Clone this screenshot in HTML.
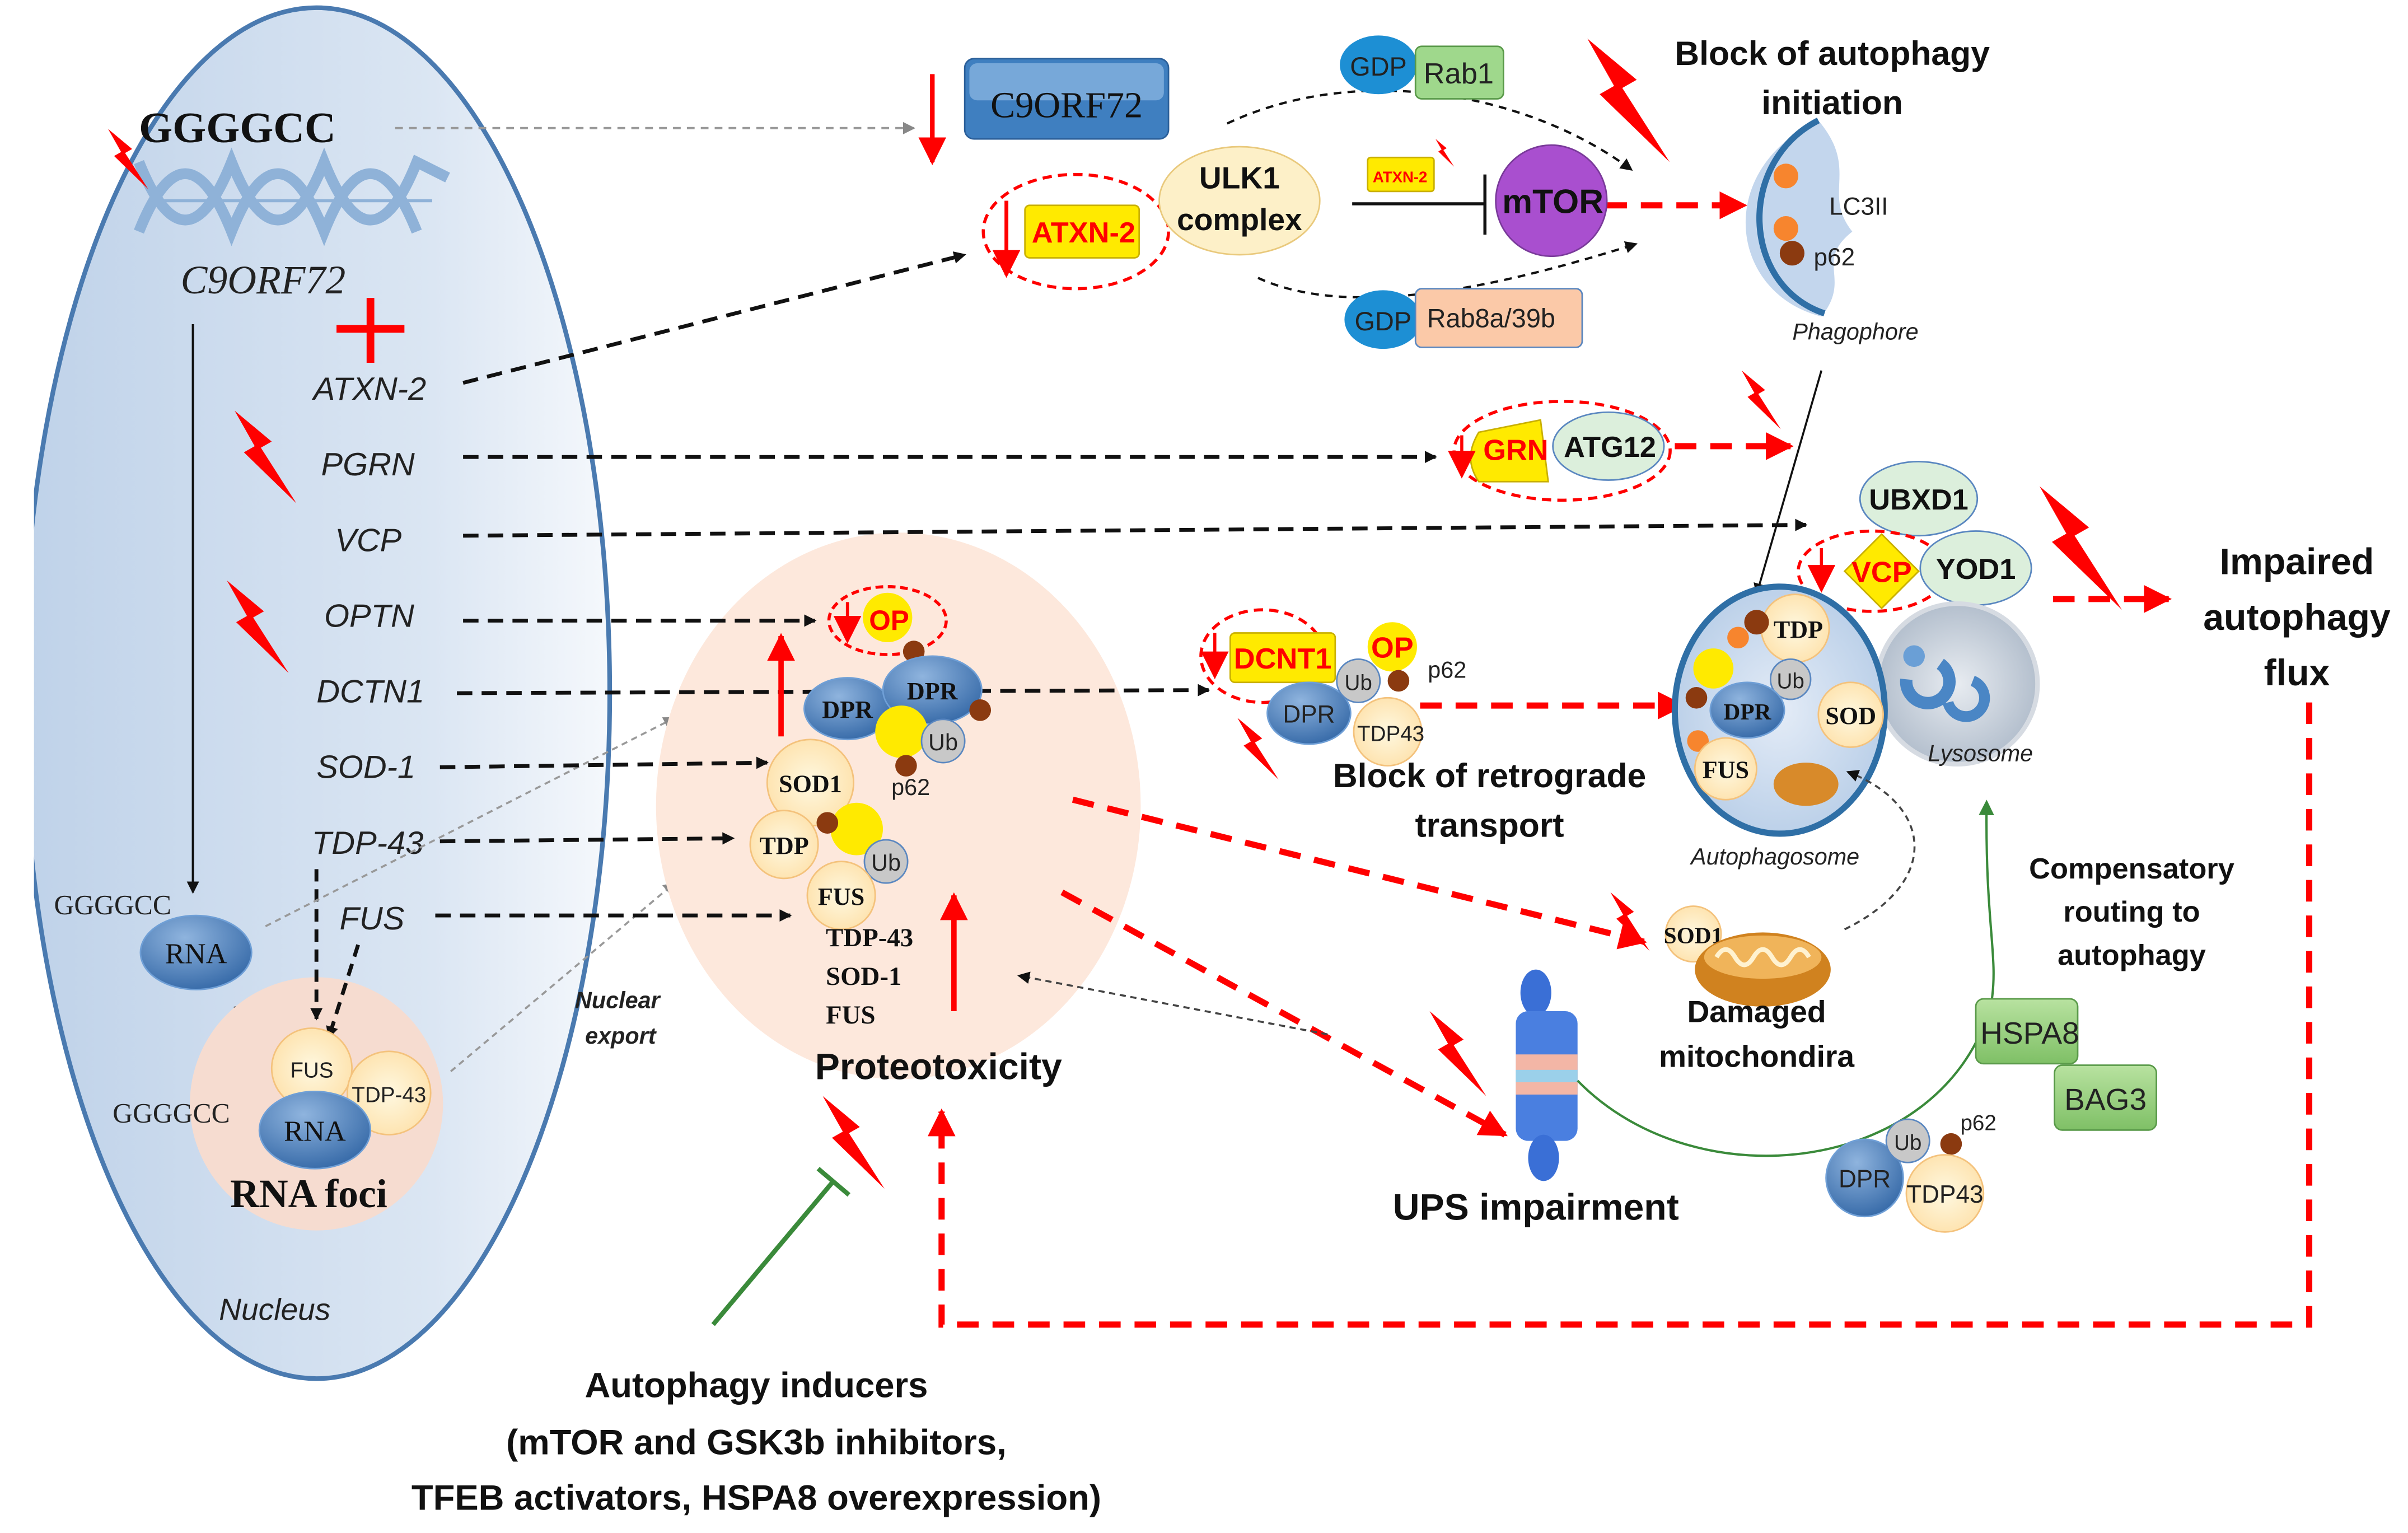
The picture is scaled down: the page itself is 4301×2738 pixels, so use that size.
<!DOCTYPE html>
<html><head><meta charset="utf-8"><style>
html,body{margin:0;padding:0;background:#fff;}
svg{display:block}
.b{font-family:"Liberation Sans",sans-serif;font-weight:bold;fill:#111}
.s{font-family:"Liberation Serif",serif}
.i{font-family:"Liberation Sans",sans-serif;font-style:italic;fill:#222}
.n{font-family:"Liberation Sans",sans-serif;fill:#222}
</style></head><body>
<svg width="4301" height="2738" viewBox="0 0 1560 993" preserveAspectRatio="none" xmlns="http://www.w3.org/2000/svg">
<defs>
<linearGradient id="nuc" x1="0" x2="1" y1="0" y2="0"><stop offset="0" stop-color="#bfd2e9"/><stop offset="0.7" stop-color="#dbe6f3"/><stop offset="1" stop-color="#f5f8fc"/></linearGradient>
<radialGradient id="blue" cx="0.4" cy="0.3" r="0.8"><stop offset="0" stop-color="#8fb4de"/><stop offset="1" stop-color="#2e63a3"/></radialGradient>
<radialGradient id="cream" cx="0.5" cy="0.5" r="0.6"><stop offset="0" stop-color="#fff8e0"/><stop offset="1" stop-color="#fde0a8"/></radialGradient>
<radialGradient id="auto" cx="0.5" cy="0.5" r="0.6"><stop offset="0" stop-color="#e4ecf7"/><stop offset="1" stop-color="#b4cbe6"/></radialGradient>
<radialGradient id="lys" cx="0.5" cy="0.5" r="0.6"><stop offset="0" stop-color="#e8ecf1"/><stop offset="1" stop-color="#a9b6c6"/></radialGradient>
<linearGradient id="grn" x1="0" y1="0" x2="0" y2="1"><stop offset="0" stop-color="#b8e2a0"/><stop offset="1" stop-color="#7fc066"/></linearGradient>
<symbol id="bolt" viewBox="0 0 40 60"><path d="M0,0 L24,20 L17,24 L40,60 L6,27 L13,23 Z" fill="#f00"/></symbol>
<marker id="ak" markerWidth="8" markerHeight="8" refX="7" refY="4" orient="auto" markerUnits="userSpaceOnUse"><path d="M0,0 L8,4 L0,8Z" fill="#111"/></marker>
<marker id="ag" markerWidth="8" markerHeight="8" refX="7" refY="4" orient="auto" markerUnits="userSpaceOnUse"><path d="M0,0 L8,4 L0,8Z" fill="#888"/></marker>
<marker id="ar" markerWidth="18" markerHeight="18" refX="16" refY="9" orient="auto" markerUnits="userSpaceOnUse"><path d="M0,0 L18,9 L0,18Z" fill="#f00"/></marker>
<marker id="agn" markerWidth="10" markerHeight="10" refX="8" refY="5" orient="auto" markerUnits="userSpaceOnUse"><path d="M0,0 L10,5 L0,10Z" fill="#3a8a3a"/></marker>
</defs>

<ellipse cx="205" cy="449" rx="190" ry="444" fill="url(#nuc)" stroke="#4a7ab0" stroke-width="3"/>
<rect x="0" y="0" width="22" height="993" fill="#fff"/>
<text class="i" x="178" y="855" font-size="20" text-anchor="middle">Nucleus</text>

<g stroke="#8fb2d8" stroke-width="7" fill="none">
<path d="M90,150 C110,100 130,100 150,150 C170,100 190,100 210,150 C230,100 250,100 270,150"/>
<path d="M90,105 C110,155 130,155 150,105 C170,155 190,155 210,105 C230,155 250,155 270,105 L290,115"/>
<path d="M100,130 L280,130" stroke-width="2"/>
</g>
<text class="s" x="90" y="92" font-size="28" font-weight="bold" fill="#111">GGGGCC</text>
<text class="s" x="117" y="190" font-size="26" font-style="italic" fill="#222">C9ORF72</text>
<use href="#bolt" x="70" y="68" width="26" height="70"/>
<path d="M218,213 H262 M240,193 V235" stroke="#f00" stroke-width="5"/>
<line x1="125" y1="210" x2="125" y2="578" stroke="#111" stroke-width="1.5" marker-end="url(#ak)"/>

<g font-size="21">
<text class="i" x="203" y="259">ATXN-2</text>
<text class="i" x="208" y="308">PGRN</text>
<text class="i" x="217" y="357">VCP</text>
<text class="i" x="210" y="406">OPTN</text>
<text class="i" x="205" y="455">DCTN1</text>
<text class="i" x="205" y="504">SOD-1</text>
<text class="i" x="202" y="553">TDP-43</text>
<text class="i" x="220" y="602">FUS</text>
</g>
<use href="#bolt" x="152" y="265" width="40" height="62"/>
<use href="#bolt" x="147" y="375" width="40" height="62"/>

<text class="s" x="35" y="592" font-size="18" fill="#222">GGGGCC</text>
<ellipse cx="127" cy="617" rx="36" ry="24" fill="url(#blue)" stroke="#6f9fd6"/>
<text class="s" x="127" y="624" font-size="19" fill="#111" text-anchor="middle">RNA</text>
<line x1="152" y1="652" x2="167" y2="700" stroke="#111" stroke-width="1.3" marker-end="url(#ak)"/>
<circle cx="205" cy="715" r="82" fill="#f6dcd0"/>
<path d="M205,563 V660" stroke="#111" stroke-width="2.5" stroke-dasharray="8 5" marker-end="url(#ak)"/>
<path d="M232,612 L213,672" stroke="#111" stroke-width="2.5" stroke-dasharray="8 5" marker-end="url(#ak)"/>
<circle cx="202" cy="692" r="26" fill="url(#cream)" stroke="#f4c27c"/>
<text class="n" x="202" y="698" font-size="14" text-anchor="middle">FUS</text>
<circle cx="252" cy="708" r="27" fill="url(#cream)" stroke="#f4c27c"/>
<text class="n" x="252" y="714" font-size="14" text-anchor="middle">TDP-43</text>
<ellipse cx="204" cy="732" rx="36" ry="25" fill="url(#blue)" stroke="#6f9fd6"/>
<text class="s" x="204" y="739" font-size="19" fill="#111" text-anchor="middle">RNA</text>
<text class="s" x="73" y="727" font-size="18" fill="#222">GGGGCC</text>
<text class="s" x="200" y="782" font-size="26" font-weight="bold" fill="#111" text-anchor="middle">RNA foci</text>

<path d="M172,600 L437,465" stroke="#999" stroke-width="1.3" stroke-dasharray="4 3" marker-end="url(#ag)"/>
<path d="M292,694 L437,572" stroke="#999" stroke-width="1.3" stroke-dasharray="4 3" marker-end="url(#ag)"/>
<text class="i" x="400" y="653" font-size="15" font-weight="bold" text-anchor="middle">Nuclear</text>
<text class="i" x="402" y="676" font-size="15" font-weight="bold" text-anchor="middle">export</text>
<path d="M256,83 L592,83" stroke="#999" stroke-width="1.5" stroke-dasharray="5 4" marker-end="url(#ag)"/>

<ellipse cx="582" cy="522" rx="157" ry="177" fill="#fde8dc"/>
<text class="b" x="608" y="699" font-size="24" text-anchor="middle">Proteotoxicity</text>

<g stroke="#111" stroke-width="2.5" stroke-dasharray="10 6" fill="none">
<path d="M300,248 L625,165" marker-end="url(#ak)"/>
<path d="M300,296 L930,296" marker-end="url(#ak)"/>
<path d="M300,347 L1170,340" marker-end="url(#ak)"/>
<path d="M300,402 L528,402" marker-end="url(#ak)"/>
<path d="M296,449 L783,447" marker-end="url(#ak)"/>
<path d="M285,497 L497,494" marker-end="url(#ak)"/>
<path d="M285,545 L475,543" marker-end="url(#ak)"/>
<path d="M282,593 L512,593" marker-end="url(#ak)"/>
</g>

<ellipse cx="575" cy="402" rx="38" ry="22" fill="none" stroke="#f00" stroke-width="2" stroke-dasharray="5 3"/>
<circle cx="575" cy="400" r="16" fill="#ffea00"/>
<text class="b" x="576" y="408" font-size="18" text-anchor="middle" style="fill:#f00">OP</text>
<path d="M549,390 V415" stroke="#f00" stroke-width="2" marker-end="url(#ar)"/>
<circle cx="592" cy="422" r="7" fill="#8b3a10"/>
<line x1="506" y1="477" x2="506" y2="412" stroke="#f00" stroke-width="3.5" marker-end="url(#ar)"/>
<ellipse cx="549" cy="459" rx="28" ry="20" fill="url(#blue)" stroke="#6f9fd6"/>
<text class="s" x="549" y="465" font-size="16" font-weight="bold" fill="#111" text-anchor="middle">DPR</text>
<ellipse cx="604" cy="447" rx="32" ry="22" fill="url(#blue)" stroke="#6f9fd6"/>
<text class="s" x="604" y="453" font-size="16" font-weight="bold" fill="#111" text-anchor="middle">DPR</text>
<circle cx="635" cy="460" r="7" fill="#8b3a10"/>
<circle cx="584" cy="474" r="17" fill="#ffea00"/>
<circle cx="611" cy="480" r="14" fill="#c8c8c8" stroke="#5a87c0"/>
<text class="n" x="611" y="486" font-size="15" text-anchor="middle">Ub</text>
<circle cx="587" cy="496" r="7" fill="#8b3a10"/>
<text class="n" x="590" y="515" font-size="15" text-anchor="middle">p62</text>
<circle cx="525" cy="507" r="28" fill="url(#cream)" stroke="#f4c27c"/>
<text class="s" x="525" y="513" font-size="16" font-weight="bold" fill="#111" text-anchor="middle">SOD1</text>
<circle cx="555" cy="537" r="17" fill="#ffea00"/>
<circle cx="508" cy="547" r="22" fill="url(#cream)" stroke="#f4c27c"/>
<text class="s" x="508" y="553" font-size="16" font-weight="bold" fill="#111" text-anchor="middle">TDP</text>
<circle cx="536" cy="533" r="7" fill="#8b3a10"/>
<circle cx="574" cy="558" r="14" fill="#c8c8c8" stroke="#5a87c0"/>
<text class="n" x="574" y="564" font-size="15" text-anchor="middle">Ub</text>
<circle cx="545" cy="580" r="22" fill="url(#cream)" stroke="#f4c27c"/>
<text class="s" x="545" y="586" font-size="16" font-weight="bold" fill="#111" text-anchor="middle">FUS</text>
<text class="s" x="535" y="613" font-size="17" font-weight="bold" fill="#111">TDP-43</text>
<text class="s" x="535" y="638" font-size="17" font-weight="bold" fill="#111">SOD-1</text>
<text class="s" x="535" y="663" font-size="17" font-weight="bold" fill="#111">FUS</text>
<line x1="618" y1="655" x2="618" y2="580" stroke="#f00" stroke-width="3.5" marker-end="url(#ar)"/>

<g stroke="#f00" stroke-width="4" stroke-dasharray="14 9" fill="none">
<path d="M695,518 L1065,610" marker-end="url(#ar)"/>
<path d="M688,578 L975,735" marker-end="url(#ar)"/>
<path d="M1496,455 V858 H610 V720" marker-end="url(#ar)"/>
<path d="M1040,133 L1130,133" marker-end="url(#ar)"/>
<path d="M1085,289 L1160,289" marker-end="url(#ar)"/>
<path d="M920,457 L1090,457" marker-end="url(#ar)"/>
<path d="M1330,388 L1405,388" marker-end="url(#ar)"/>
</g>
<path d="M860,670 L660,632" stroke="#444" stroke-width="1.3" stroke-dasharray="4 3" marker-end="url(#ak)"/>

<rect x="625" y="38" width="132" height="52" rx="6" fill="#3f7fc0" stroke="#2b5f99"/>
<rect x="628" y="41" width="126" height="24" rx="5" fill="#9cc3ea" opacity="0.6"/>
<text class="s" x="691" y="76" font-size="24" fill="#111" text-anchor="middle">C9ORF72</text>
<line x1="604" y1="48" x2="604" y2="105" stroke="#f00" stroke-width="3" marker-end="url(#ar)"/>

<ellipse cx="697" cy="150" rx="60" ry="37" fill="none" stroke="#f00" stroke-width="2" stroke-dasharray="6 4"/>
<rect x="664" y="133" width="74" height="34" rx="3" fill="#ffea00" stroke="#c9b000"/>
<text class="b" x="702" y="157" font-size="19" text-anchor="middle" style="fill:#f00">ATXN-2</text>
<line x1="652" y1="130" x2="652" y2="178" stroke="#f00" stroke-width="2.5" marker-end="url(#ar)"/>
<ellipse cx="803" cy="130" rx="52" ry="35" fill="#fdf0c8" stroke="#e9c97c"/>
<text class="b" x="803" y="122" font-size="20" text-anchor="middle">ULK1</text>
<text class="b" x="803" y="149" font-size="20" text-anchor="middle">complex</text>
<path d="M795,80 C880,40 990,60 1057,110" stroke="#111" stroke-width="1.5" stroke-dasharray="5 4" fill="none" marker-end="url(#ak)"/>
<path d="M815,180 C880,210 990,180 1060,158" stroke="#111" stroke-width="1.5" stroke-dasharray="5 4" fill="none" marker-end="url(#ak)"/>
<ellipse cx="893" cy="42" rx="25" ry="19" fill="#1d8fd4"/>
<text class="n" x="893" y="49" font-size="17" text-anchor="middle">GDP</text>
<rect x="917" y="30" width="57" height="34" rx="4" fill="#9fd88c" stroke="#5a9a4a"/>
<text class="n" x="945" y="54" font-size="19" text-anchor="middle">Rab1</text>
<ellipse cx="896" cy="207" rx="25" ry="19" fill="#1d8fd4"/>
<text class="n" x="896" y="214" font-size="17" text-anchor="middle">GDP</text>
<rect x="917" y="187" width="108" height="38" rx="4" fill="#fbc9a8" stroke="#5a87c0"/>
<text class="n" x="966" y="212" font-size="17" text-anchor="middle">Rab8a/39b</text>
<line x1="876" y1="132" x2="962" y2="132" stroke="#111" stroke-width="2"/>
<line x1="962" y1="113" x2="962" y2="152" stroke="#111" stroke-width="2"/>
<rect x="886" y="102" width="43" height="22" rx="2" fill="#ffea00" stroke="#c9b000"/>
<text class="b" x="907" y="118" font-size="10" text-anchor="middle" style="fill:#f00">ATXN-2</text>
<use href="#bolt" x="930" y="88" width="12" height="22"/>
<circle cx="1005" cy="130" r="36" fill="#a94fcf" stroke="#7a3a9a"/>
<text class="b" x="1006" y="138" font-size="22" text-anchor="middle">mTOR</text>
<use href="#bolt" x="1010" y="25" width="90" height="80"/>
<text class="b" x="1187" y="42" font-size="22" text-anchor="middle">Block of autophagy</text>
<text class="b" x="1187" y="74" font-size="22" text-anchor="middle">initiation</text>

<path d="M1178,78 C1110,110 1120,190 1180,205 C1200,180 1175,170 1200,150 C1180,125 1205,110 1178,78 Z" fill="#c3d6ed"/>
<path d="M1178,78 C1125,105 1128,185 1182,203" stroke="#2f6fa6" stroke-width="4" fill="none"/>
<circle cx="1157" cy="114" r="8" fill="#f7852e"/>
<circle cx="1157" cy="148" r="8" fill="#f7852e"/>
<circle cx="1161" cy="164" r="8" fill="#8b3a10"/>
<text class="n" x="1185" y="139" font-size="16">LC3II</text>
<text class="n" x="1175" y="172" font-size="16">p62</text>
<text class="i" x="1202" y="220" font-size="15" text-anchor="middle">Phagophore</text>
<line x1="1180" y1="240" x2="1138" y2="385" stroke="#111" stroke-width="1.3" marker-end="url(#ak)"/>
<use href="#bolt" x="1128" y="240" width="26" height="38"/>

<ellipse cx="1012" cy="292" rx="70" ry="32" fill="none" stroke="#f00" stroke-width="2" stroke-dasharray="6 4"/>
<path d="M958,280 L998,272 L1003,312 L958,312 C950,300 952,290 958,280Z" fill="#ffea00" stroke="#c9b000"/>
<ellipse cx="1042" cy="289" rx="36" ry="22" fill="#dcefdc" stroke="#5a87c0"/>
<text class="b" x="982" y="298" font-size="19" text-anchor="middle" style="fill:#f00">GRN</text>
<text class="b" x="1043" y="296" font-size="19" text-anchor="middle">ATG12</text>
<line x1="947" y1="282" x2="947" y2="308" stroke="#f00" stroke-width="2" marker-end="url(#ar)"/>

<ellipse cx="1243" cy="323" rx="38" ry="24" fill="#dcefdc" stroke="#5a87c0"/>
<text class="b" x="1243" y="330" font-size="19" text-anchor="middle">UBXD1</text>
<ellipse cx="1213" cy="370" rx="48" ry="26" fill="none" stroke="#f00" stroke-width="2" stroke-dasharray="6 4"/>
<ellipse cx="1280" cy="368" rx="36" ry="24" fill="#dcefdc" stroke="#5a87c0"/>
<text class="b" x="1280" y="375" font-size="19" text-anchor="middle">YOD1</text>
<path d="M1219,346 L1243,370 L1219,394 L1195,370Z" fill="#ffea00" stroke="#c9b000"/>
<text class="b" x="1219" y="377" font-size="19" text-anchor="middle" style="fill:#f00">VCP</text>
<line x1="1180" y1="355" x2="1180" y2="382" stroke="#f00" stroke-width="2" marker-end="url(#ar)"/>
<use href="#bolt" x="1318" y="315" width="60" height="80"/>
<text class="b" x="1488" y="372" font-size="24" text-anchor="middle">Impaired</text>
<text class="b" x="1488" y="408" font-size="24" text-anchor="middle">autophagy</text>
<text class="b" x="1488" y="444" font-size="24" text-anchor="middle">flux</text>

<circle cx="1268" cy="443" r="52" fill="url(#lys)" stroke="#d6dbe2" stroke-width="3"/>
<path d="M1235,440 a14,14 0 1,0 22,-10" stroke="#4a86c5" stroke-width="8" fill="none"/>
<path d="M1262,455 a12,12 0 1,0 16,-14" stroke="#4a86c5" stroke-width="7" fill="none"/>
<circle cx="1240" cy="425" r="7" fill="#6a9fd6"/>
<text class="i" x="1283" y="493" font-size="15" text-anchor="middle">Lysosome</text>

<ellipse cx="1153" cy="460" rx="68" ry="80" fill="url(#auto)" stroke="#2f6fa6" stroke-width="4"/>
<circle cx="1163" cy="407" r="22" fill="url(#cream)" stroke="#f4c27c"/>
<text class="s" x="1165" y="413" font-size="16" font-weight="bold" fill="#111" text-anchor="middle">TDP</text>
<circle cx="1138" cy="403" r="8" fill="#8b3a10"/>
<circle cx="1126" cy="413" r="7" fill="#f7852e"/>
<circle cx="1110" cy="433" r="13" fill="#ffea00"/>
<circle cx="1160" cy="440" r="13" fill="#c8c8c8" stroke="#5a87c0"/>
<text class="n" x="1160" y="446" font-size="14" text-anchor="middle">Ub</text>
<circle cx="1099" cy="452" r="7" fill="#8b3a10"/>
<ellipse cx="1132" cy="460" rx="24" ry="18" fill="url(#blue)" stroke="#6f9fd6"/>
<text class="s" x="1132" y="466" font-size="15" font-weight="bold" fill="#111" text-anchor="middle">DPR</text>
<circle cx="1199" cy="463" r="21" fill="url(#cream)" stroke="#f4c27c"/>
<text class="s" x="1199" y="469" font-size="16" font-weight="bold" fill="#111" text-anchor="middle">SOD</text>
<circle cx="1100" cy="480" r="7" fill="#f7852e"/>
<circle cx="1118" cy="498" r="20" fill="url(#cream)" stroke="#f4c27c"/>
<text class="s" x="1118" y="504" font-size="16" font-weight="bold" fill="#111" text-anchor="middle">FUS</text>
<ellipse cx="1170" cy="508" rx="21" ry="14" fill="#d88a2a"/>
<text class="i" x="1150" y="560" font-size="15" text-anchor="middle">Autophagosome</text>
<path d="M1195,602 C1260,570 1250,520 1197,500" stroke="#444" stroke-width="1.3" stroke-dasharray="4 3" fill="none" marker-end="url(#ak)"/>

<ellipse cx="818" cy="425" rx="40" ry="30" fill="none" stroke="#f00" stroke-width="2" stroke-dasharray="6 4"/>
<rect x="797" y="410" width="68" height="32" rx="3" fill="#ffea00" stroke="#c9b000"/>
<text class="b" x="831" y="433" font-size="19" text-anchor="middle" style="fill:#f00">DCNT1</text>
<line x1="787" y1="410" x2="787" y2="438" stroke="#f00" stroke-width="2" marker-end="url(#ar)"/>
<circle cx="902" cy="419" r="16" fill="#ffea00"/>
<text class="b" x="902" y="426" font-size="19" text-anchor="middle" style="fill:#f00">OP</text>
<circle cx="906" cy="441" r="7" fill="#8b3a10"/>
<text class="n" x="925" y="439" font-size="15">p62</text>
<ellipse cx="848" cy="462" rx="27" ry="20" fill="url(#blue)" stroke="#6f9fd6"/>
<text class="n" x="848" y="468" font-size="16" text-anchor="middle">DPR</text>
<circle cx="880" cy="441" r="14" fill="#c8c8c8" stroke="#5a87c0"/>
<text class="n" x="880" y="447" font-size="14" text-anchor="middle">Ub</text>
<circle cx="899" cy="474" r="22" fill="url(#cream)" stroke="#f4c27c"/>
<text class="n" x="901" y="480" font-size="14" text-anchor="middle">TDP43</text>
<use href="#bolt" x="795" y="465" width="40" height="40"/>
<text class="b" x="965" y="510" font-size="22" text-anchor="middle">Block of retrograde</text>
<text class="b" x="965" y="542" font-size="22" text-anchor="middle">transport</text>

<use href="#bolt" x="1043" y="578" width="26" height="38"/>
<circle cx="1097" cy="605" r="18" fill="url(#cream)" stroke="#f4c27c"/>
<text class="s" x="1097" y="611" font-size="15" font-weight="bold" fill="#111" text-anchor="middle">SOD1</text>
<ellipse cx="1142" cy="628" rx="44" ry="24" fill="#d0821f"/>
<ellipse cx="1142" cy="620" rx="38" ry="14" fill="#f0b45a"/>
<path d="M1112,620 q6,-10 12,0 t12,0 t12,0 t12,0 t12,0" stroke="#fff2d0" stroke-width="3" fill="none"/>
<text class="b" x="1138" y="662" font-size="20" text-anchor="middle">Damaged</text>
<text class="b" x="1138" y="691" font-size="20" text-anchor="middle">mitochondira</text>

<use href="#bolt" x="922" y="655" width="45" height="55"/>
<ellipse cx="995" cy="643" rx="10" ry="15" fill="#3a6fd6"/>
<rect x="982" y="655" width="40" height="84" rx="8" fill="#4a7fe0"/>
<rect x="982" y="683" width="40" height="26" fill="#f3b6a6"/>
<rect x="982" y="693" width="40" height="8" fill="#9bd0ea"/>
<ellipse cx="1000" cy="750" rx="10" ry="15" fill="#3a6fd6"/>
<text class="b" x="995" y="790" font-size="24" text-anchor="middle">UPS impairment</text>

<path d="M1022,700 C1100,780 1260,760 1290,650 C1295,620 1286,600 1287,520" stroke="#3a8a3a" stroke-width="1.5" fill="none" marker-end="url(#agn)"/>
<text class="b" x="1381" y="569" font-size="19" text-anchor="middle">Compensatory</text>
<text class="b" x="1381" y="597" font-size="19" text-anchor="middle">routing to</text>
<text class="b" x="1381" y="625" font-size="19" text-anchor="middle">autophagy</text>
<rect x="1280" y="647" width="66" height="42" rx="5" fill="url(#grn)" stroke="#5a9a4a"/>
<text class="n" x="1315" y="676" font-size="20" text-anchor="middle">HSPA8</text>
<rect x="1331" y="690" width="66" height="42" rx="5" fill="url(#grn)" stroke="#5a9a4a"/>
<text class="n" x="1364" y="719" font-size="20" text-anchor="middle">BAG3</text>
<circle cx="1208" cy="763" r="25" fill="url(#blue)" stroke="#6f9fd6"/>
<text class="n" x="1208" y="769" font-size="16" text-anchor="middle">DPR</text>
<circle cx="1236" cy="739" r="14" fill="#c8c8c8" stroke="#5a87c0"/>
<text class="n" x="1236" y="745" font-size="14" text-anchor="middle">Ub</text>
<circle cx="1264" cy="741" r="7" fill="#8b3a10"/>
<text class="n" x="1270" y="732" font-size="14">p62</text>
<circle cx="1260" cy="773" r="25" fill="url(#cream)" stroke="#f4c27c"/>
<text class="n" x="1260" y="779" font-size="16" text-anchor="middle">TDP43</text>

<use href="#bolt" x="516" y="710" width="74" height="60"/>
<line x1="462" y1="858" x2="540" y2="765" stroke="#3a8a3a" stroke-width="3"/>
<line x1="530" y1="757" x2="550" y2="774" stroke="#3a8a3a" stroke-width="3"/>
<text class="b" x="490" y="905" font-size="23" text-anchor="middle">Autophagy inducers</text>
<text class="b" x="490" y="942" font-size="23" text-anchor="middle">(mTOR and GSK3b inhibitors,</text>
<text class="b" x="490" y="978" font-size="23" text-anchor="middle">TFEB activators, HSPA8 overexpression)</text>
</svg>
</body></html>
